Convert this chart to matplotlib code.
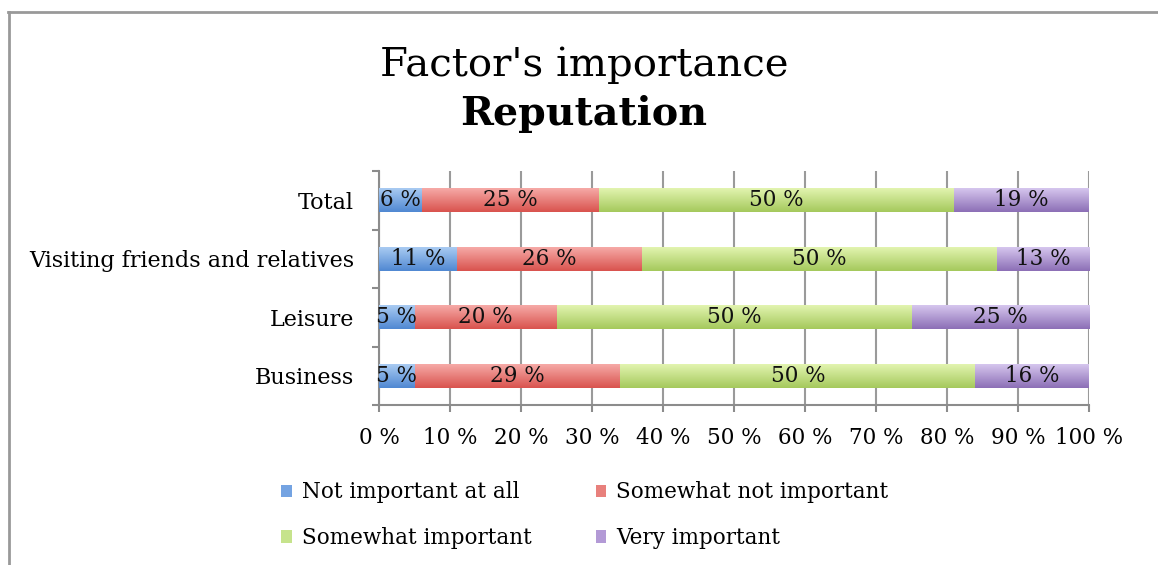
import numpy as np
import matplotlib
matplotlib.use("Agg")
import matplotlib.pyplot as plt
from matplotlib.colors import LinearSegmentedColormap
from matplotlib.lines import Line2D

categories = ["Business", "Leisure", "Visiting friends and relatives", "Total"]
series_names = ["Not important at all", "Somewhat not important",
                "Somewhat important", "Very important"]
not_important = [5, 5, 11, 6]
somewhat_not = [29, 20, 26, 25]
somewhat_imp = [50, 50, 50, 50]
very_imp = [16, 25, 13, 19]
xtick_vals = list(range(0, 101, 10))

series = [not_important, somewhat_not, somewhat_imp, very_imp]
grad = [("#a9cbf2", "#5088d2"), ("#f6aaa7", "#d9534e"),
        ("#e2f4b0", "#a5c95c"), ("#d6c6ee", "#8c6fb6")]
mids = ["#74a3e2", "#e8807c", "#c6e38c", "#b39ad6"]

plt.rcParams['font.family'] = ['DejaVu Serif']
fig = plt.figure(figsize=(11.58, 5.65), dpi=100)
ax = fig.add_axes([379/1158, 1-405/565, 710/1158, 234/565])

y = np.arange(len(categories))
left = np.zeros(len(categories))
handles = []
for vals, name, (c1, c2), mc in zip(series, series_names, grad, mids):
    bars = ax.barh(y, vals, left=left, height=0.41, color=mc, label=name,
                   zorder=3, edgecolor='none')
    handles.append(bars)
    for b in bars:
        x0, y0 = b.get_x(), b.get_y()
        w, h = b.get_width(), b.get_height()
        cmap = LinearSegmentedColormap.from_list("g", [c1, c2])
        im = ax.imshow(np.linspace(0, 1, 64).reshape(-1, 1), cmap=cmap,
                       extent=[x0, x0 + w, y0, y0 + h], aspect='auto',
                       zorder=3.5, origin='upper', interpolation='bilinear')
        im.set_clip_path(b)
    ax.bar_label(bars, labels=[f"{v} %" for v in vals], label_type='center',
                 fontsize=15.5, color='#111111', zorder=5)
    left += np.array(vals)

ax.set_xlim(0, 100)
ax.set_ylim(-0.5, len(categories) - 0.5)
ax.set_xticks(xtick_vals)
ax.set_xticklabels([f"{v} %" for v in xtick_vals], fontsize=15.5)
ax.set_yticks(np.arange(-0.5, len(categories), 1.0))
ax.set_yticklabels([])
ax.set_yticks(y, minor=True)
ax.set_yticklabels(categories, minor=True, fontsize=16)
ax.tick_params(axis='y', which='minor', length=0, pad=18)
ax.tick_params(axis='y', which='major', length=5, width=1.5, color='#8c8c8c')
ax.tick_params(axis='x', which='major', length=5, width=1.5, color='#8c8c8c', pad=11)
ax.grid(axis='x', color='#9a9a9a', linewidth=1.5, zorder=0)
ax.set_axisbelow(True)
for s in ['top', 'right']:
    ax.spines[s].set_visible(False)
for s in ['left', 'bottom']:
    ax.spines[s].set_color('#8c8c8c')
    ax.spines[s].set_linewidth(1.5)

fig.text(584/1158, 1-65/565, "Factor's importance", ha='center', va='center',
         fontsize=29)
fig.text(584/1158, 1-114/565, "Reputation", ha='center', va='center',
         fontsize=28.5, fontweight='bold')

order = [0, 2, 1, 3]
fig.legend([handles[i] for i in order], [series_names[i] for i in order],
           ncol=2, loc='upper left',
           bbox_to_anchor=(262/1158, 1-462/565), frameon=False, fontsize=15.5,
           handlelength=0.5, handleheight=0.5, handletextpad=0.45,
           columnspacing=2.97, labelspacing=1.1)

fig.add_artist(Line2D([8/1158, 1], [1-11.5/565, 1-11.5/565], color='#999999',
                      linewidth=2, transform=fig.transFigure))
fig.add_artist(Line2D([9/1158, 9/1158], [1-11.5/565, 0], color='#999999',
                      linewidth=2, transform=fig.transFigure))

fig.savefig("out.png", dpi=100)
